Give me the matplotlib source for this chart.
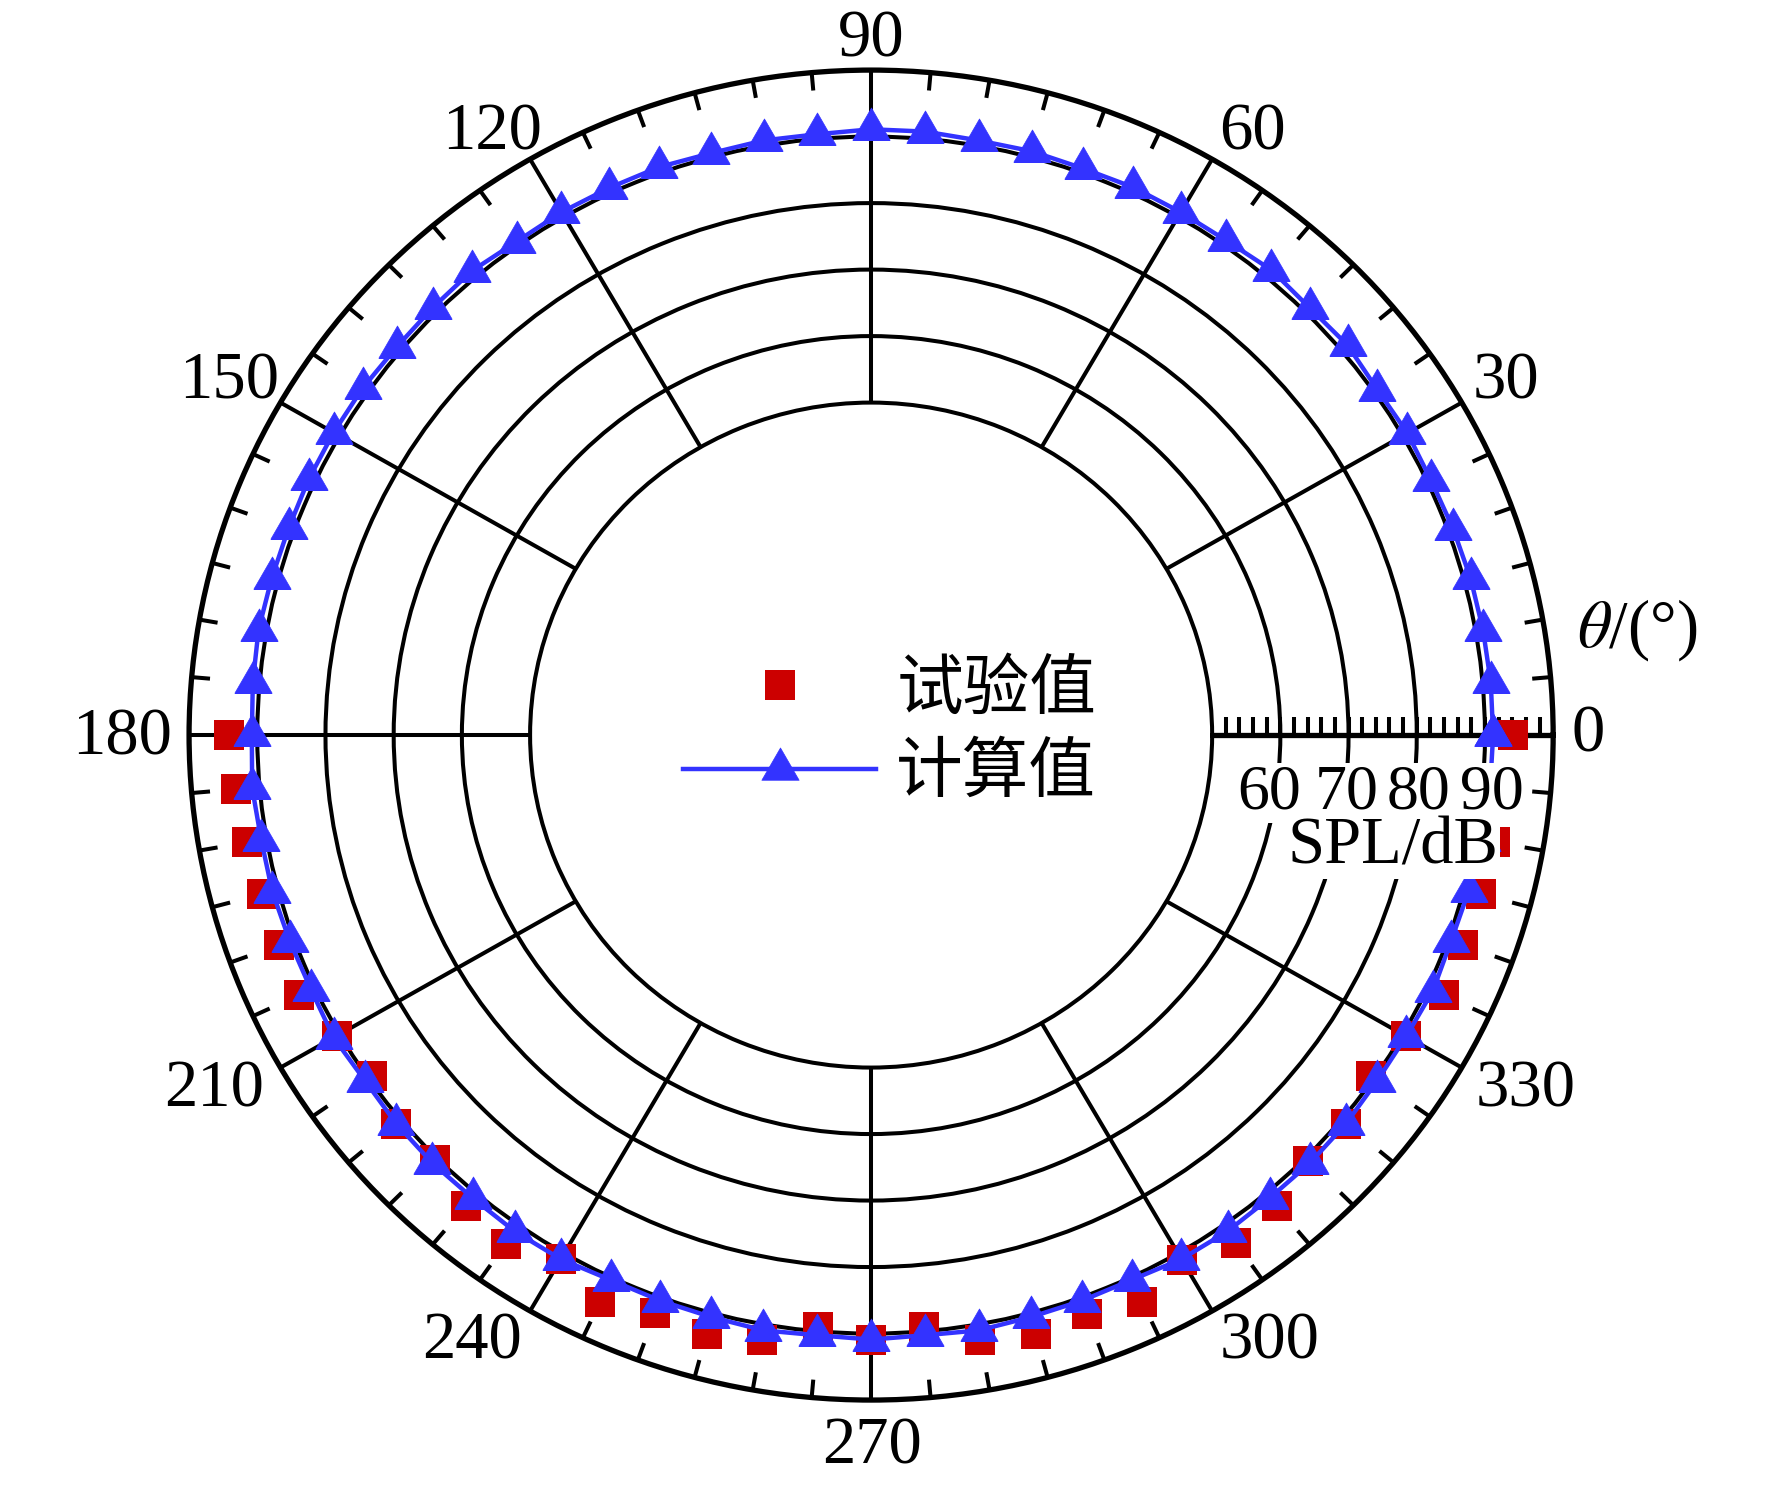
import numpy as np
import matplotlib.pyplot as plt
from matplotlib.path import Path

plt.rcParams['font.family'] = ['Liberation Serif', 'Noto Sans CJK SC']
plt.rcParams['mathtext.fontset'] = 'stix'

# ------------------------------------------------------------------
# Data
# ------------------------------------------------------------------
angles_calc = np.arange(0, 361, 5)
spl_calc = [91.2, 91.2, 91.1, 91.0, 90.8, 90.6, 90.8, 90.6, 91.2, 90.9,
            91.3, 90.8, 90.8, 90.9, 90.7, 90.9, 90.8, 91.1, 91.1, 90.7,
            90.8, 90.6, 90.9, 90.8, 90.8, 90.6, 91.1, 90.9, 90.8, 91.0,
            91.0, 91.0, 90.9, 91.0, 91.2, 91.0, 90.8, 91.1, 90.8, 90.9,
            90.7, 90.6, 91.0, 90.6, 90.9, 91.0, 90.9, 91.1, 91.0, 90.4,
            90.5, 90.6, 90.9, 90.6, 90.9, 90.6, 90.9, 90.6, 90.5, 90.4,
            91.0, 91.1, 90.9, 91.0, 90.9, 90.6, 90.6, 90.9, 90.5, 90.7,
            90.9, 91.1, 91.2]

angles_test = np.arange(180, 361, 5)
spl_test = [94.1, 93.5, 92.9, 92.4, 92.4, 92.6, 90.5, 89.3, 90.9, 90.4,
            92.5, 93.4, 91.0, 94.1, 92.5, 93.2, 92.4, 89.3, 91.0, 89.3,
            92.3, 93.2, 92.6, 94.1, 91.1, 93.3, 92.5, 90.6, 90.9, 89.4,
            90.6, 92.6, 92.4, 92.6, 92.9, 93.5, 94.1]

theta_labels = list(range(0, 360, 30))
theta_minor = [a for a in range(0, 360, 5) if a % 30]
r_grid = [60, 70, 80, 90]
r_minor = list(range(52, 100, 2))

# label offsets from the outer ring, in pixels (x right, y up)
label_offsets = {0: (35, 6), 30: (44, 26), 60: (40, 32), 90: (0, 36),
                 120: (-38, 32), 150: (-51, 26), 180: (-67, 3),
                 210: (-66, -17), 240: (-58, -26), 270: (1, -41),
                 300: (57, -26), 330: (64, -17)}
r_label_dx = {60: -11, 70: -2, 80: 2, 90: 7}

C_TEST = '#CC0000'
C_CALC = '#3333FF'
FS = 48
LW = 2.9

# ------------------------------------------------------------------
# Figure / polar axes (slightly wider than tall, as in the source)
# ------------------------------------------------------------------
fig = plt.figure(figsize=(17.72, 14.85), dpi=100)
ax = fig.add_axes([0.1067, 0.0572, 0.7698, 0.8956], projection='polar')
ax.set_aspect('auto')
ax.set_rlim(50, 100)
ax.set_rorigin(0)

ax.set_xticks(np.deg2rad(theta_labels))
ax.set_xticklabels([])
ax.set_yticks(r_grid)
ax.set_yticklabels([])
ax.tick_params(axis='both', which='both', length=0)
ax.grid(True, color='k', lw=LW)
ax.spines['polar'].set_linewidth(3.8)
ax.spines['inner'].set_linewidth(LW)

# small inward ticks on the outer ring every 5 deg
for a in theta_minor:
    ax.plot([np.deg2rad(a)] * 2, [97.3, 100], color='k', lw=LW,
            solid_capstyle='butt', zorder=2.5)

# radial axis along 0 deg with small upward ticks
ax.plot([0, 0], [50, 100], color='k', lw=3.8, zorder=2.5)
ax.plot(np.zeros(len(r_minor)), r_minor, ls='none', marker=2, ms=13,
        mew=LW, color='k', zorder=2.5)

# ------------------------------------------------------------------
# Data
# ------------------------------------------------------------------
tri = Path([(0, 1), (-0.866, -0.5), (0.866, -0.5), (0, 1)],
           [Path.MOVETO, Path.LINETO, Path.LINETO, Path.CLOSEPOLY])

ax.plot(np.deg2rad(angles_test), spl_test, ls='none', marker='s', ms=22,
        mew=0, color=C_TEST, zorder=3, label='试验值')
ax.plot(np.deg2rad(angles_calc), spl_calc, color=C_CALC, lw=3.2,
        marker=tri, ms=31, mew=0.5, mec=C_CALC, zorder=4, label='计算值')

# ------------------------------------------------------------------
# Angle labels outside the ring
# ------------------------------------------------------------------
h_txt = 44
for a in theta_labels:
    ox, oy = label_offsets[a]
    ax.annotate(str(a), xy=(np.deg2rad(a), 100), xytext=(ox, oy - h_txt / 2),
                textcoords='offset pixels', ha='center', va='baseline',
                fontsize=FS, annotation_clip=False)

# radial labels below the 0 deg axis
for r in r_grid:
    ax.annotate(str(r), xy=(0, r), xytext=(r_label_dx[r], -73),
                textcoords='offset pixels', ha='center', va='baseline',
                fontsize=46, zorder=6, annotation_clip=False,
                bbox=dict(boxstyle='square,pad=0.02', fc='white', ec='none'))

fig.text(0.786, 0.4296, 'SPL/dB', ha='center', va='center', fontsize=FS,
         bbox=dict(boxstyle='square,pad=0.02', fc='white', ec='none'))
fig.text(0.9238, 0.5758, r'$\theta$/(°)', ha='center', va='center', fontsize=FS)

# ------------------------------------------------------------------
# Legend
# ------------------------------------------------------------------
fig.legend(loc='center left', bbox_to_anchor=(0.3854, 0.5074), frameon=False,
           handlelength=2.9, handletextpad=0.3, labelspacing=0.24,
           borderpad=0, borderaxespad=0, numpoints=1,
           prop={'family': ['Noto Sans CJK SC'], 'size': FS})

fig.savefig('out.png', dpi=100)
